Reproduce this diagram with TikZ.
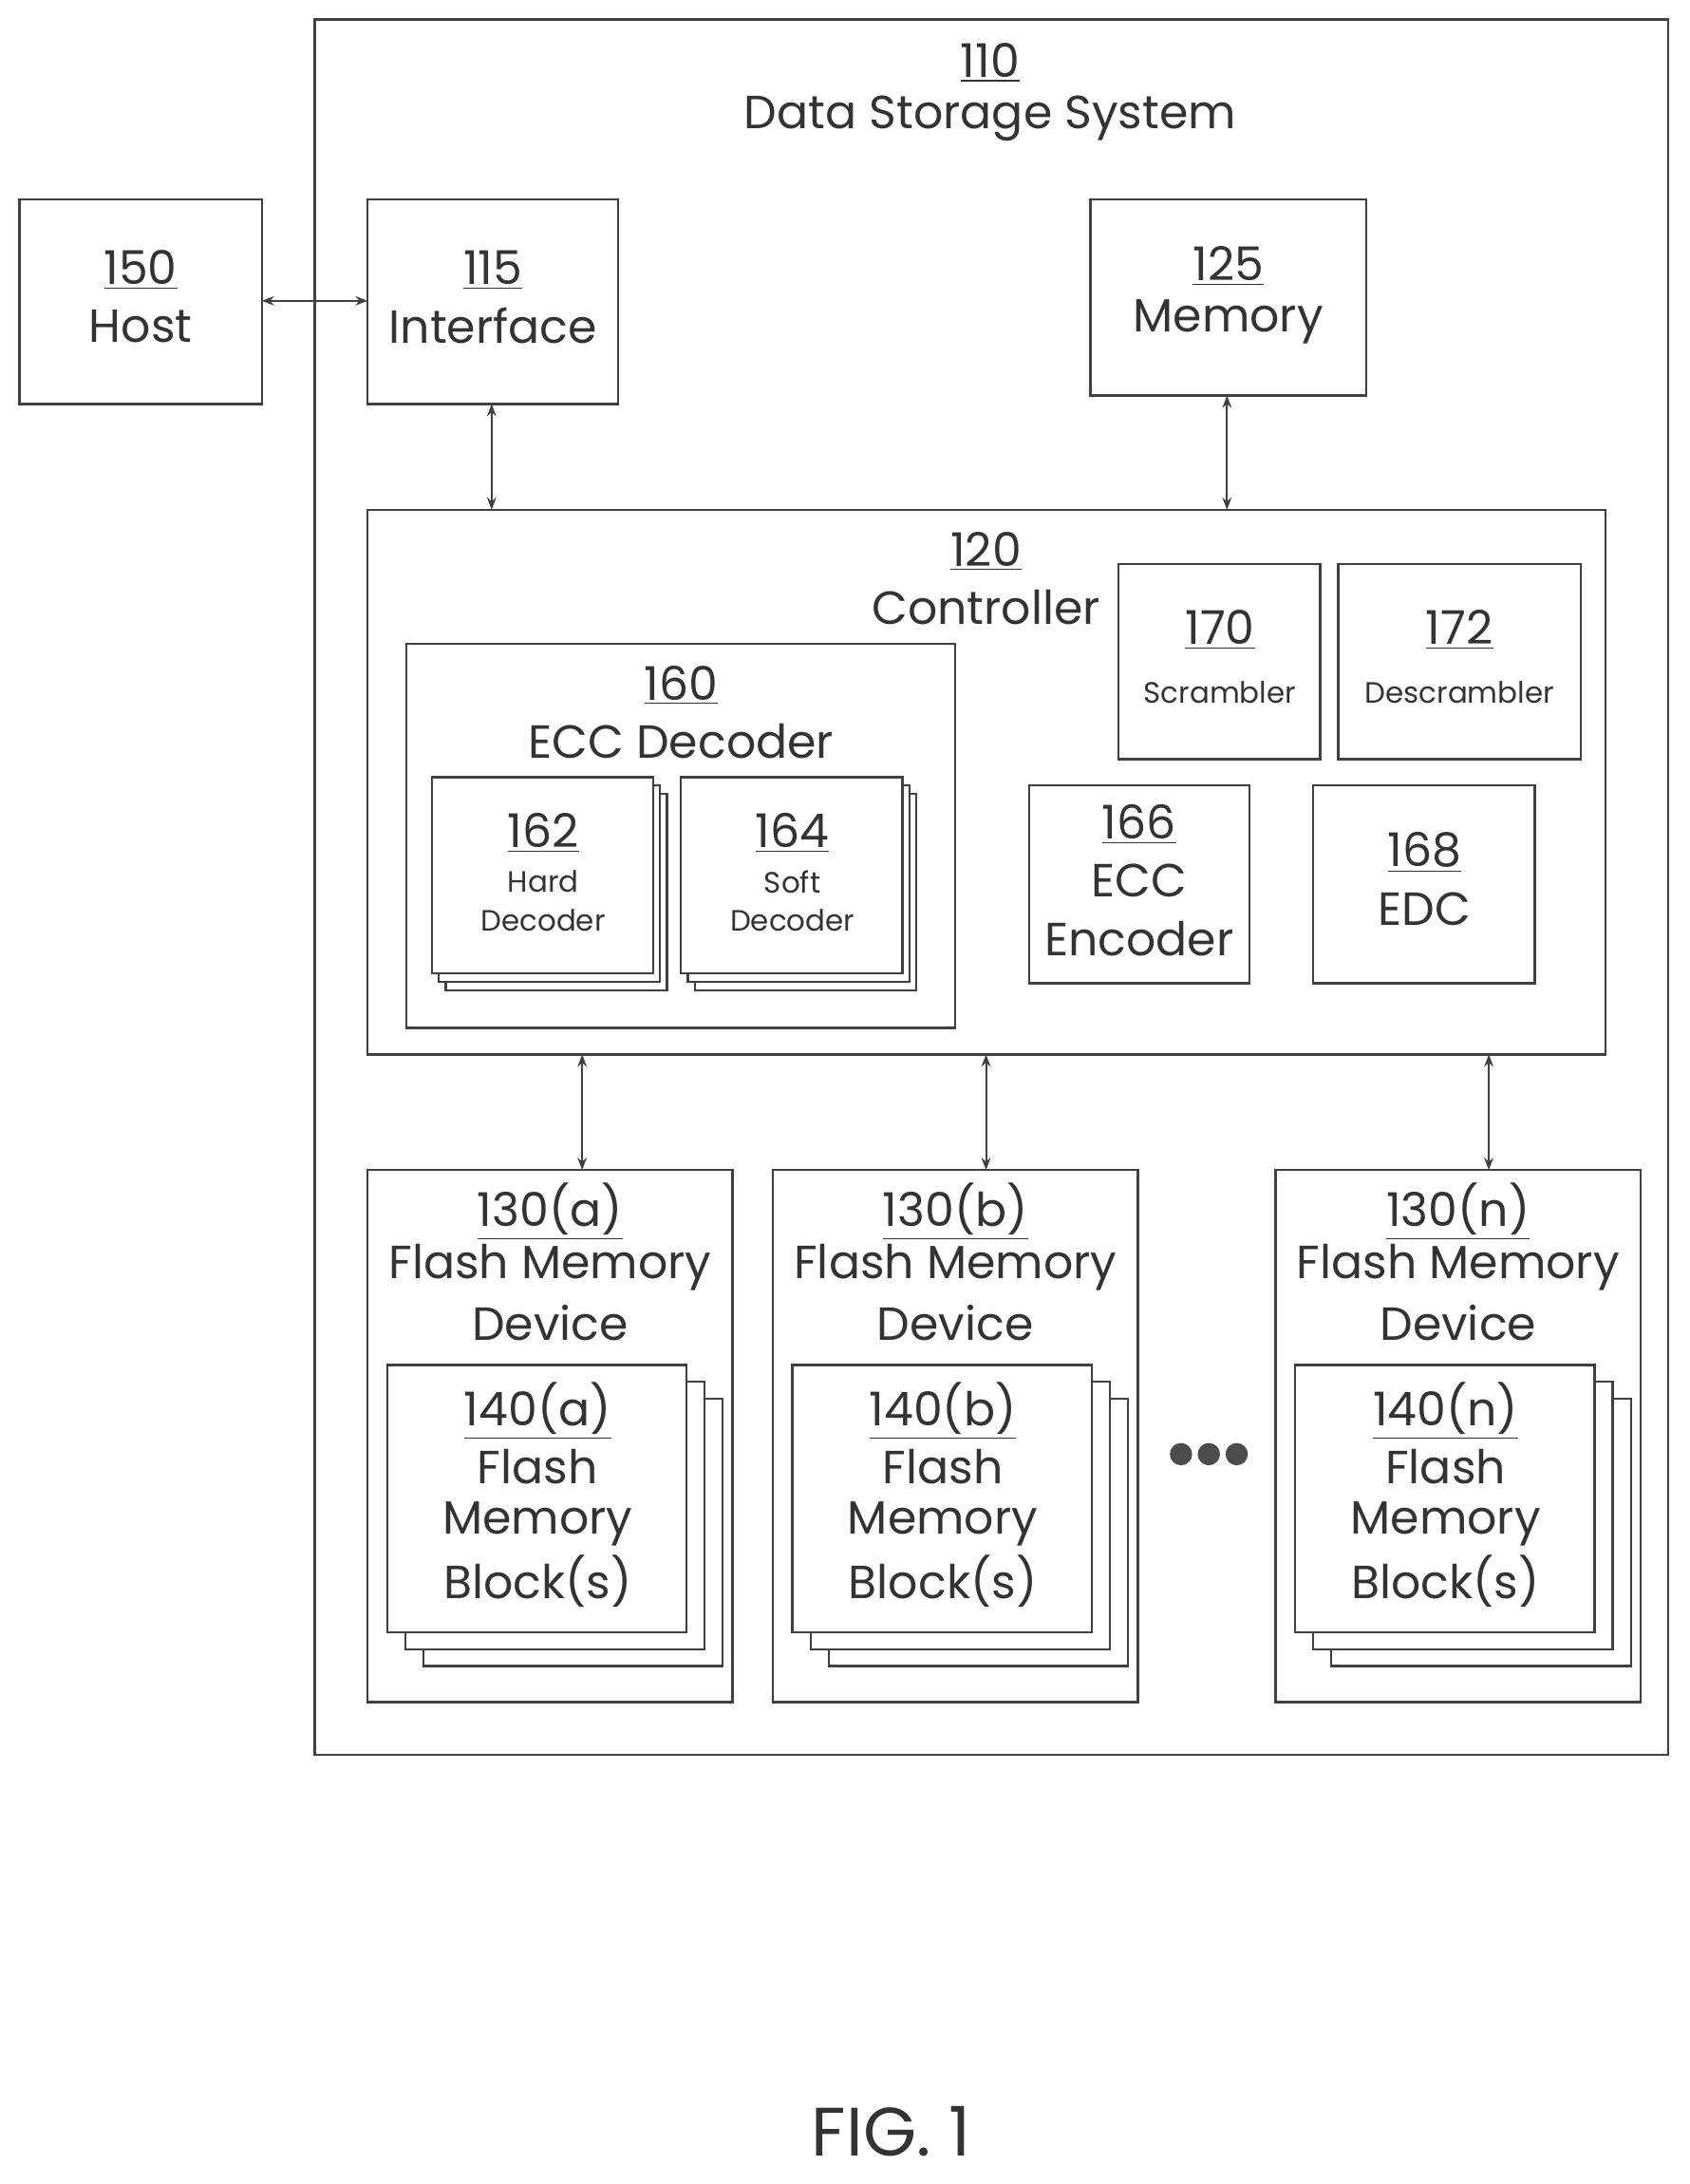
\documentclass[tikz,border=0pt]{standalone}
\usepackage{fontspec}
\setmainfont{Poppins}
\usetikzlibrary{arrows.meta}
\begin{document}
\begin{tikzpicture}[x=0.02cm,y=-0.02cm,
  bx/.style={draw=black!75,line width=0.9pt,fill=white},
  big/.style={font=\fontsize{19}{22}\selectfont,inner sep=0pt,text=black!80},
  sm/.style={font=\fontsize{12}{14}\selectfont,inner sep=0pt,text=black!80},
  arr/.style={{Stealth[length=5pt]}-{Stealth[length=5pt]},line width=0.8pt,black!75}]
\useasboundingbox (0,0) rectangle (1213,1568);
% outer
\draw[bx] (226,14) rectangle (1198,1260);
\node[big] (l110) at (711,45) {\underline{110}};
\node[big] at (711,85) {Data Storage System};
% host
\draw[bx] (14,143) rectangle (188,290);
\coordinate (hostR) at (188,216);
\node[big] at (101,194) {\underline{150}};
\node[big] at (101,234) {Host};
% interface
\draw[bx] (264,143) rectangle (444,290);
\coordinate (ifL) at (264,216);
\coordinate (ifB) at (353,290);
\node[big] at (354,194) {\underline{115}};
\node[big] at (354,234) {Interface};
% memory
\draw[bx] (783,143) rectangle (981,284);
\coordinate (memB) at (881,284);
\node[big] at (882,191) {\underline{125}};
\node[big] at (882,231) {Memory};
% controller
\draw[bx] (264,366) rectangle (1153,757);
\coordinate (cT1) at (353,366);
\coordinate (cT2) at (881,366);
\coordinate (cB1) at (418,757);
\coordinate (cB2) at (708,757);
\coordinate (cB3) at (1069,757);
\node[big] at (708,396) {\underline{120}};
\node[big] at (708,436) {Controller};
% ECC decoder
\draw[bx] (292,462) rectangle (686,738);
\node[big] at (489,492) {\underline{160}};
\node[big] at (489,532) {ECC Decoder};
\foreach \x/\n/\t in {310/162/Hard,489/164/Soft}{
  \draw[bx] (\x+10,570) rectangle (\x+169,711);
  \draw[bx] (\x+5,564) rectangle (\x+164,705);
  \draw[bx] (\x,558) rectangle (\x+159,699);
  \node[big] at (\x+80,598) {\underline{\n}};
  \node[sm] at (\x+80,633) {\t};
  \node[sm] at (\x+80,661) {Decoder};
}
% scrambler
\draw[bx] (803,405) rectangle (948,545);
\node[big] at (876,452) {\underline{170}};
\node[sm] at (876,497) {Scrambler};
\draw[bx] (961,405) rectangle (1135,545);
\node[big] at (1048,452) {\underline{172}};
\node[sm] at (1048,497) {Descrambler};
% encoder, EDC
\draw[bx] (739,564) rectangle (897,706);
\node[big] at (818,592) {\underline{166}};
\node[big] at (818,632) {ECC};
\node[big] at (818,674) {Encoder};
\draw[bx] (943,564) rectangle (1102,706);
\node[big] at (1023,612) {\underline{168}};
\node[big] at (1023,653) {EDC};
% flash devices
\foreach \x/\s/\c in {264/a/418,555/b/708,916/n/1069}{
  \draw[bx] (\x,840) rectangle (\x+262,1222);
  \coordinate (dev\s) at (\c,840);
  \node[big] at (\x+131,870) {\underline{130(\s)}};
  \node[big] at (\x+131,910) {Flash Memory};
  \node[big] at (\x+131,950) {Device};
  \draw[bx] (\x+40,1004) rectangle (\x+255,1196);
  \draw[bx] (\x+27,992) rectangle (\x+242,1184);
  \draw[bx] (\x+14,980) rectangle (\x+229,1172);
  \node[big] at (\x+122,1013) {\underline{140(\s)}};
  \node[big] at (\x+122,1053) {Flash};
  \node[big] at (\x+122,1094) {Memory};
  \node[big] at (\x+122,1135) {Block(s)};
}
\foreach \x in {848,868,888} \fill[black!70] (\x,1044) circle (8);
% arrows
\draw[arr] (hostR) -- (ifL);
\draw[arr] (ifB) -- (cT1);
\draw[arr] (memB) -- (cT2);
\draw[arr] (cB1) -- (deva);
\draw[arr] (cB2) -- (devb);
\draw[arr] (cB3) -- (devn);
\node[font=\fontsize{28}{32}\selectfont,text=black!80,inner sep=0pt] at (640,1530) {FIG. 1};
\end{tikzpicture}
\end{document}
